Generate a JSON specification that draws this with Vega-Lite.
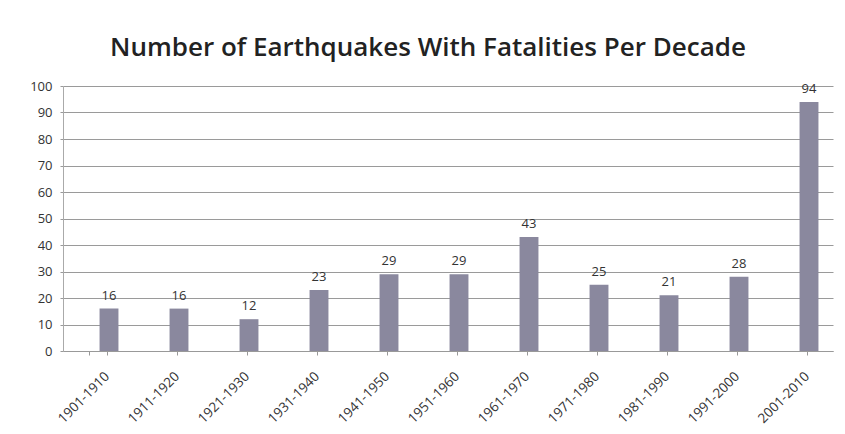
{
  "$schema": "https://vega.github.io/schema/vega-lite/v6.json",
  "autosize": "none",
  "width": 770,
  "height": 265,
  "padding": {"left": 63, "top": 86, "right": 12, "bottom": 83},
  "background": "#ffffff",
  "title": {
    "text": "Number of Earthquakes With Fatalities Per Decade",
    "font": "Open Sans",
    "fontSize": 26,
    "fontWeight": 600,
    "color": "#222222",
    "anchor": "middle",
    "offset": 19,
    "dx": -20
  },
  "data": {
    "values": [
      {"decade": "1901-1910", "count": 16},
      {"decade": "1911-1920", "count": 16},
      {"decade": "1921-1930", "count": 12},
      {"decade": "1931-1940", "count": 23},
      {"decade": "1941-1950", "count": 29},
      {"decade": "1951-1960", "count": 29},
      {"decade": "1961-1970", "count": 43},
      {"decade": "1971-1980", "count": 25},
      {"decade": "1981-1990", "count": 21},
      {"decade": "1991-2000", "count": 28},
      {"decade": "2001-2010", "count": 94}
    ]
  },
  "encoding": {
    "x": {
      "field": "decade",
      "type": "nominal",
      "sort": null,
      "scale": {"paddingInner": 0.73, "paddingOuter": 0.365},
      "axis": {
        "title": null,
        "labelAngle": -45,
        "labelFont": "Open Sans",
        "labelFontSize": 13.5,
        "labelColor": "#333333",
        "labelPadding": 14,
        "labelOffset": 4,
        "tickBand": "extent",
        "tickColor": "#999999",
        "tickSize": 4,
        "domainColor": "#999999",
        "grid": false
      }
    },
    "y": {
      "field": "count",
      "type": "quantitative",
      "scale": {"domain": [0, 100], "nice": false},
      "axis": {
        "title": null,
        "values": [0, 10, 20, 30, 40, 50, 60, 70, 80, 90, 100],
        "labelFont": "Open Sans",
        "labelFontSize": 13,
        "labelColor": "#333333",
        "labelPadding": 8,
        "tickSize": 3,
        "tickColor": "#999999",
        "domainColor": "#aaaaaa",
        "gridColor": "#9a9a9a",
        "gridWidth": 1
      }
    }
  },
  "layer": [
    {
      "mark": {"type": "bar", "color": "#8a889e", "xOffset": 11, "x2Offset": 11}
    },
    {
      "mark": {
        "type": "text",
        "baseline": "bottom",
        "dy": -6,
        "dx": 11,
        "font": "Open Sans",
        "fontSize": 13,
        "color": "#333333"
      },
      "encoding": {"text": {"field": "count", "type": "quantitative"}}
    }
  ],
  "config": {"view": {"stroke": null}}
}
